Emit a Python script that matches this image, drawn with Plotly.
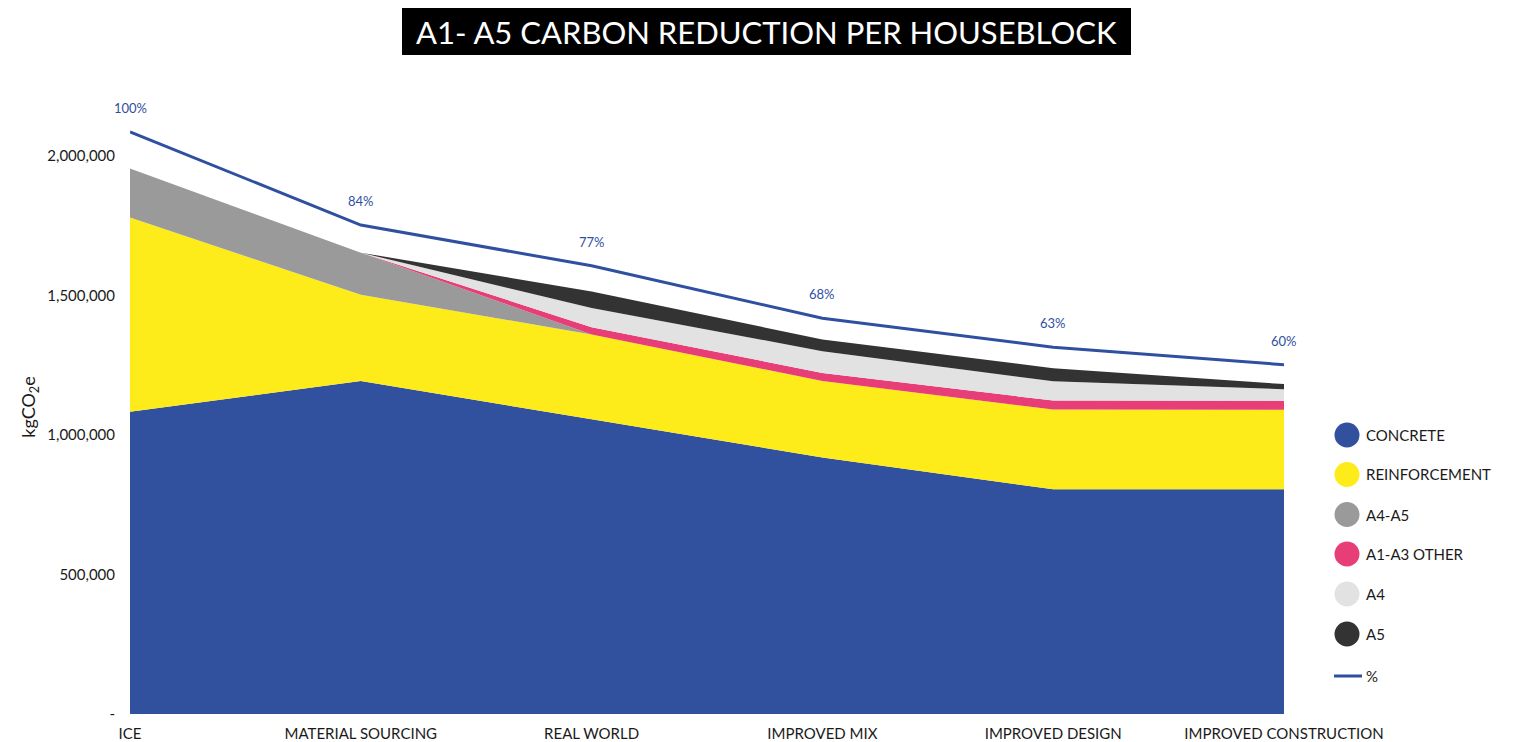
import plotly.graph_objects as go

# ---- data -------------------------------------------------------------
categories = ["ICE", "MATERIAL SOURCING", "REAL WORLD", "IMPROVED MIX",
              "IMPROVED DESIGN", "IMPROVED CONSTRUCTION"]

concrete = [1083000, 1193000, 1056000, 919000, 805000, 805000]
reinforcement = [696000, 309000, 304000, 274000, 286000, 285000]
a4_a5 = [176000, 151000, 0, 0, 0, 0]
a1_a3_other = [0, 0, 26000, 29000, 32000, 32000]
a4 = [0, 0, 69000, 78000, 69000, 42000]
a5 = [0, 0, 59000, 42000, 47000, 18000]
pct = [100, 84, 77, 68, 63, 60]

y_tick_vals = [0, 500000, 1000000, 1500000, 2000000]
y_tick_text = ["-", "500,000", "1,000,000", "1,500,000", "2,000,000"]

series_names = ["CONCRETE", "REINFORCEMENT", "A4-A5", "A1-A3 OTHER", "A4", "A5"]
series_values = [concrete, reinforcement, a4_a5, a1_a3_other, a4, a5]
series_colors = ["#31519F", "#FDEB1A", "#9A9A9A", "#E83E77", "#E2E2E2", "#333333"]
line_color = "#2F4FA0"

FONT = "Lato"

# ---- layout geometry (px) ----------------------------------------------
W, H = 1520, 742
M_L, M_R, M_T, M_B = 130, 236, 100, 28
PW, PH = W - M_L - M_R, H - M_T - M_B
Y_MAX = 2200000
# the % axis is scaled so that 100% sits above the stacked total
Y2_MAX = 105.48


def px_x(px):
    return (px - M_L) / PW


def px_y(py):
    return (H - M_B - py) / PH


fig = go.Figure()

for name, vals, col in zip(series_names, series_values, series_colors):
    fig.add_trace(go.Scatter(
        x=categories, y=vals, name=name, mode="lines",
        stackgroup="one", line=dict(width=0, color=col),
        fillcolor=col, showlegend=False,
        hovertemplate="%{x}<br>" + name + ": %{y:,.0f}<extra></extra>",
    ))

fig.add_trace(go.Scatter(
    x=categories, y=pct, name="%", mode="lines", yaxis="y2",
    line=dict(color=line_color, width=3), showlegend=False,
    hovertemplate="%{x}: %{y}%<extra></extra>",
))

annotations = []
for c, p in zip(categories, pct):
    annotations.append(dict(
        x=c, y=p, xref="x", yref="y2", text=f"{p}%", showarrow=False,
        yshift=24, font=dict(family=FONT, size=13, color=line_color),
    ))

# title box
shapes = [dict(type="rect", xref="paper", yref="paper",
               x0=px_x(402), x1=px_x(1131), y0=px_y(55), y1=px_y(8),
               fillcolor="black", line=dict(width=0), layer="above")]
annotations.append(dict(
    xref="paper", yref="paper", x=px_x(766.5), y=px_y(31.5),
    text="A1- A5 CARBON REDUCTION PER HOUSEBLOCK", showarrow=False,
    font=dict(family=FONT, size=31, color="white"),
    xanchor="center", yanchor="middle",
))

# legend: circle swatches plus a line swatch for the % series
leg_y = [435, 474.5, 514.5, 554, 594, 634]
for name, col, ly in zip(series_names, series_colors, leg_y):
    shapes.append(dict(type="circle", xref="paper", yref="paper",
                       x0=px_x(1334.5), x1=px_x(1359.5),
                       y0=px_y(ly + 12.5), y1=px_y(ly - 12.5),
                       fillcolor=col, line=dict(width=0)))
    annotations.append(dict(xref="paper", yref="paper", x=px_x(1364),
                            y=px_y(ly), text=name, showarrow=False,
                            xanchor="left", yanchor="middle",
                            font=dict(family=FONT, size=15, color="#1a1a1a")))
shapes.append(dict(type="line", xref="paper", yref="paper",
                   x0=px_x(1334), x1=px_x(1362), y0=px_y(676), y1=px_y(676),
                   line=dict(color=line_color, width=3)))
annotations.append(dict(xref="paper", yref="paper", x=px_x(1364),
                        y=px_y(676), text="%", showarrow=False,
                        xanchor="left", yanchor="middle",
                        font=dict(family=FONT, size=15, color="#1a1a1a")))

fig.update_layout(
    width=W, height=H,
    margin=dict(l=M_L, r=M_R, t=M_T, b=M_B),
    paper_bgcolor="white", plot_bgcolor="white",
    font=dict(family=FONT, color="#1a1a1a"),
    showlegend=False,
    xaxis=dict(
        type="category", range=[0, 5], showgrid=False, zeroline=False,
        showline=False, ticks="", ticklabelstandoff=9, automargin=False,
        tickfont=dict(size=15, color="#1a1a1a"),
    ),
    yaxis=dict(
        range=[0, Y_MAX], tickvals=y_tick_vals, ticktext=y_tick_text,
        showgrid=False, zeroline=False, showline=False, ticks="",
        automargin=False,
        ticklabelstandoff=14, tickfont=dict(size=15, color="#1a1a1a"),
        title=dict(text="kgCO<sub>2</sub>e", standoff=6,
                   font=dict(size=18, color="#1a1a1a")),
    ),
    yaxis2=dict(
        range=[0, Y2_MAX], overlaying="y", side="right", visible=False,
    ),
    shapes=shapes,
    annotations=annotations,
)

fig.write_html("out.html")
